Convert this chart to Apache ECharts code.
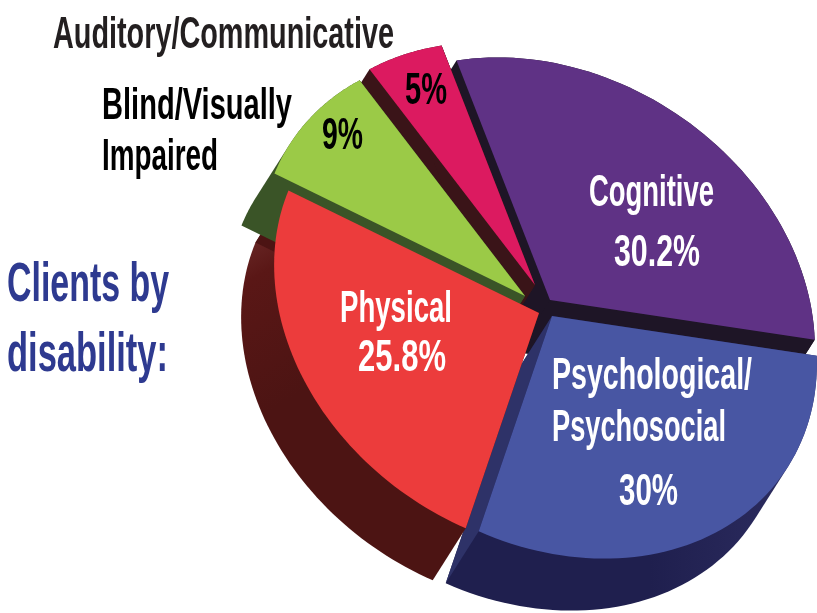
<!DOCTYPE html>
<html>
<head>
<meta charset="utf-8">
<title>Clients by disability</title>
<script src="https://cdn.jsdelivr.net/npm/echarts@6/dist/echarts.min.js"></script>
<style>
  html, body { margin: 0; padding: 0; background: #fff; }
  #myChart { width: 817px; height: 613px; }
</style>
</head>
<body>
<div id="myChart"></div>
<script>
// clockwise from the psychological slice
var categories = ['Psychological/Psychosocial', 'Physical', 'Blind/Visually Impaired', 'Auditory/Communicative', 'Cognitive'];
var shares = [30, 25.8, 9, 5, 30.2];
var shareLabels = ['30%', '25.8%', '9%', '5%', '30.2%'];

// tilted pie: ellipse radii, tilt and extrusion, all in px
var pieCenter = [545, 306];
var radiusA = 280;
var radiusB = 225;
var tilt = 33 * Math.PI / 180;
var startAngle = -29.5 * Math.PI / 180;
var depth = [-33, 52];

var explode = [[7, 10], [-6, 7], [-20, -10], [-10, -21], [5, -6]];
var topColors = ['#4856A3', '#EC3C3C', '#9BCA47', '#DC1A60', '#5F3285'];
var sideColors = ['#2E3268', '#4C1413', '#3A5427', '#3A1418', '#1E1526'];
// paint order: depth, then top
var depthZ = [5, 7, 8, 3, 1];
var topZ = [6, 10, 9, 4, 2];

var total = shares.reduce(function (a, b) { return a + b; }, 0);

function rimPoint(c, t) {
  var u = radiusA * Math.cos(t);
  var v = radiusB * Math.sin(t);
  return [
    c[0] + u * Math.cos(tilt) - v * Math.sin(tilt),
    c[1] + u * Math.sin(tilt) + v * Math.cos(tilt)
  ];
}

function shift(p) {
  return [p[0] + depth[0], p[1] + depth[1]];
}

// extrusion outline = convex hull of the slice and its shifted copy
function hull(points) {
  var pts = points.slice().sort(function (a, b) { return a[0] - b[0] || a[1] - b[1]; });
  function cross(o, a, b) {
    return (a[0] - o[0]) * (b[1] - o[1]) - (a[1] - o[1]) * (b[0] - o[0]);
  }
  function half(list) {
    var out = [];
    list.forEach(function (p) {
      while (out.length > 1 && cross(out[out.length - 2], out[out.length - 1], p) <= 0) out.pop();
      out.push(p);
    });
    out.pop();
    return out;
  }
  return half(pts).concat(half(pts.slice().reverse()));
}

function depthFill(i) {
  if (i === 0) {
    return new echarts.graphic.LinearGradient(0, 0, 1, 0, [
      { offset: 0, color: '#1F1F4E' }, { offset: 0.55, color: '#1F1F4E' }, { offset: 1, color: '#2E2E62' }
    ]);
  }
  if (i === 1) {
    return new echarts.graphic.LinearGradient(0, 0, 0.35, 0.45, [
      { offset: 0, color: '#7A3A38' }, { offset: 0.4, color: '#5A1716' }, { offset: 1, color: '#4C1413' }
    ]);
  }
  return sideColors[i];
}

function renderSlice(params, api) {
  var i = params.dataIndex;
  var before = 0;
  for (var k = 0; k < i; k++) before += shares[k];
  var t0 = startAngle + before / total * Math.PI * 2;
  var t1 = t0 + api.value(0) / total * Math.PI * 2;
  var c = [pieCenter[0] + explode[i][0], pieCenter[1] + explode[i][1]];
  var rim = [];
  var steps = 60;
  for (var s = 0; s <= steps; s++) {
    rim.push(rimPoint(c, t0 + (t1 - t0) * s / steps));
  }
  var top = [c].concat(rim);
  var last = rim[rim.length - 1];
  var children = [
    {
      type: 'polygon', z2: depthZ[i],
      shape: { points: hull(top.concat(top.map(shift))) },
      style: { fill: depthFill(i) }
    },
    {
      type: 'polygon', z2: depthZ[i],
      shape: { points: [c, last, shift(last), shift(c)] },
      style: { fill: sideColors[i] }
    },
    {
      type: 'polygon', z2: topZ[i],
      shape: { points: top },
      style: { fill: topColors[i] }
    }
  ];
  return { type: 'group', children: children };
}

// condensed headline type: stretch the narrow face to the measured width
var FONT = '"Liberation Sans Narrow", "Liberation Sans", sans-serif';
var measureCtx = document.createElement('canvas').getContext('2d');
function label(text, x, baseline, width, size, color) {
  var font = 'bold ' + size + 'px ' + FONT;
  measureCtx.font = font;
  return {
    type: 'text', z: 50, x: x, y: baseline,
    scaleX: width / measureCtx.measureText(text).width,
    style: { text: text, font: font, fill: color, textAlign: 'left', textVerticalAlign: 'bottom' }
  };
}

var texts = [
  label('Auditory/Communicative', 53, 58, 341, 44, '#231F20'),
  label('Blind/Visually', 102, 129, 190, 44, '#000'),
  label('Impaired', 102, 180, 116, 44, '#000'),
  label('Clients by', 7, 314, 162, 56, '#2E3A90'),
  label('disability:', 7, 384, 161, 56, '#2E3A90'),
  label(shareLabels[3], 405, 114, 42, 44, '#000'),
  label(shareLabels[2], 322, 159, 41, 44, '#000'),
  label('Cognitive', 589, 216, 125, 44, '#fff'),
  label(shareLabels[4], 614, 276, 86, 44, '#fff'),
  label('Psychological/', 552, 399, 200, 44, '#fff'),
  label('Psychosocial', 552, 451, 174, 44, '#fff'),
  label(shareLabels[0], 619, 515, 59, 44, '#fff'),
  label('Physical', 340, 332, 112, 44, '#fff'),
  label(shareLabels[1], 358, 381, 88, 44, '#fff')
];

var myChart = echarts.init(document.getElementById('myChart'));
myChart.setOption({
  animation: false,
  backgroundColor: '#fff',
  graphic: { elements: texts },
  series: [{
    type: 'custom',
    coordinateSystem: 'none',
    renderItem: renderSlice,
    data: shares.map(function (v, i) { return { name: categories[i], value: [v] }; })
  }]
});
</script>
</body>
</html>
